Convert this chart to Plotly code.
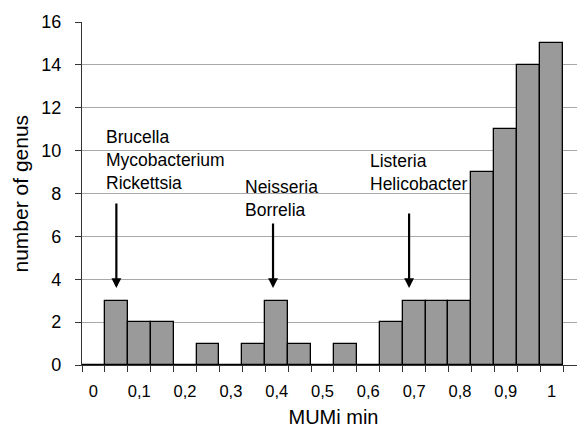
import plotly.graph_objects as go

# data
bin_centers = [round(i * 0.05, 2) for i in range(21)]
counts = [0, 3, 2, 2, 0, 1, 0, 1, 3, 1, 0, 1, 0, 2, 3, 3, 3, 9, 11, 14, 15]
tick_values = [0.0, 0.1, 0.2, 0.3, 0.4, 0.5, 0.6, 0.7, 0.8, 0.9, 1.0]
tick_labels = ["0", "0,1", "0,2", "0,3", "0,4", "0,5", "0,6", "0,7", "0,8", "0,9", "1"]

# annotation groups: label text, text left x, text center y, arrow x, arrow tail y, arrow tip y
ann_texts = ["Brucella<br>Mycobacterium<br>Rickettsia", "Neisseria<br>Borrelia", "Listeria<br>Helicobacter"]
ann_text_x = [0.023, 0.326, 0.599]
ann_text_y = [9.58, 7.78, 9.0]
arrow_x = [0.05, 0.392, 0.689]
arrow_tail_y = [7.6, 6.67, 7.14]
arrow_tip_y = [3.59, 3.59, 3.59]

FONT = "Liberation Sans, Arial, sans-serif"

fig = go.Figure()
fig.add_trace(go.Bar(
    x=bin_centers, y=counts, width=0.05,
    marker=dict(color="#9a9a9a", line=dict(color="black", width=1.3)),
    showlegend=False,
))

annotations = []
for t, tx, ty in zip(ann_texts, ann_text_x, ann_text_y):
    annotations.append(dict(x=tx, y=ty, xref="x", yref="y", text=t, showarrow=False,
                            xanchor="left", yanchor="middle", align="left",
                            font=dict(family=FONT, size=17.5, color="black")))
for axv, tail, tip in zip(arrow_x, arrow_tail_y, arrow_tip_y):
    annotations.append(dict(x=axv, y=tip, ax=axv, ay=tail, xref="x", yref="y",
                            axref="x", ayref="y", text="", showarrow=True,
                            arrowhead=2, arrowsize=0.9, arrowwidth=2.2, arrowcolor="black",
                            standoff=0, startstandoff=0))
annotations.append(dict(x=0.0, y=0.5, xref="paper", yref="paper", xshift=-62,
                        text="number of genus", textangle=-90, showarrow=False,
                        xanchor="center", yanchor="middle",
                        font=dict(family=FONT, size=21, color="black")))

fig.update_layout(
    width=577, height=424,
    margin=dict(l=74, r=0, t=14, b=67),
    paper_bgcolor="white", plot_bgcolor="white",
    font=dict(family=FONT, size=16, color="black"),
    bargap=0,
    annotations=annotations,
    xaxis=dict(
        range=[-0.025, 1.073],
        tickmode="array", tickvals=tick_values, ticktext=tick_labels,
        ticks="", showgrid=False, zeroline=False,
        showline=True, linecolor="#333333", linewidth=1.2,
        tickfont=dict(family=FONT, size=16.5, color="black"),
        ticklabelstandoff=11,
        minor=dict(ticks="outside", tick0=0.025, dtick=0.05, ticklen=6,
                   tickcolor="#333333", tickwidth=1, showgrid=False),
        title=dict(text="MUMi min", font=dict(family=FONT, size=20, color="black"), standoff=11),
    ),
    yaxis=dict(
        range=[0, 16], tickmode="linear", tick0=0, dtick=2,
        ticks="outside", ticklen=6, tickcolor="#333333",
        showgrid=True, gridcolor="#a8a8a8", gridwidth=1,
        zeroline=False, showline=True, linecolor="#333333", linewidth=1.2,
        tickfont=dict(family=FONT, size=18, color="black"),
        ticklabelstandoff=10,
    ),
)

fig.write_html("out.html")
